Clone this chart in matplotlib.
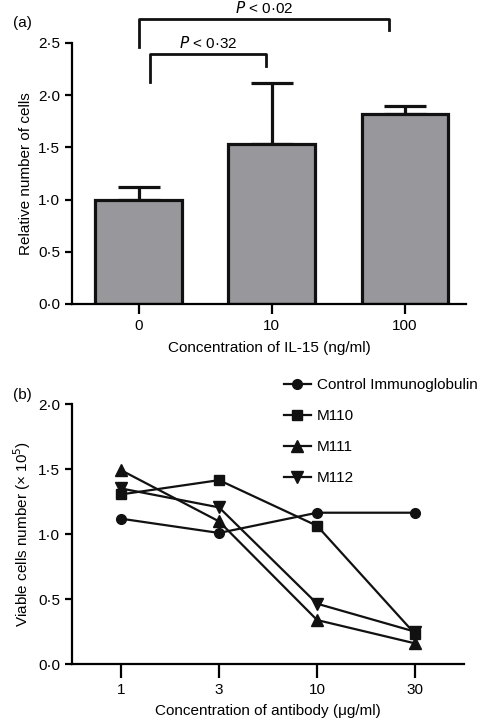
import matplotlib
matplotlib.use("Agg")
import matplotlib.pyplot as plt
from matplotlib.ticker import FixedLocator, FixedFormatter

plt.rcParams['font.family'] = ['Liberation Sans', 'DejaVu Sans']

# -----------------------------
# Data: panel (a)
# -----------------------------
il15_labels = ["0", "10", "100"]
rel_cells = [1.00, 1.535, 1.82]
rel_err = [0.12, 0.585, 0.08]

# -----------------------------
# Data: panel (b)
# -----------------------------
ab_labels = ["1", "3", "10", "30"]
control_ig = [1.12, 1.01, 1.166, 1.166]
m110 = [1.307, 1.417, 1.065, 0.231]
m111 = [1.494, 1.099, 0.339, 0.159]
m112 = [1.353, 1.207, 0.465, 0.249]

FS = 11

def dot_labels(vals):
    return [f"{v:.1f}".replace(".", "\u00b7") for v in vals]

fig = plt.figure(figsize=(4.8, 7.21), dpi=100)

# -----------------------------
# Panel (a): bars
# -----------------------------
ax1 = fig.add_axes([0.15, 0.5784, 0.821, 0.362])
x = range(len(il15_labels))
ax1.bar(x, rel_cells, width=0.65, color="#98979c", edgecolor="#111111",
        linewidth=2.3, zorder=2)
ax1.errorbar(x, rel_cells, yerr=[[0, 0, 0], rel_err], fmt="none",
             ecolor="#111111", elinewidth=2.3, capsize=15, capthick=2.3, zorder=1)
ax1.set_xlim(-0.5, 2.46)
ax1.set_ylim(0, 2.5)
yt = [0, 0.5, 1.0, 1.5, 2.0, 2.5]
ax1.yaxis.set_major_locator(FixedLocator(yt))
ax1.yaxis.set_major_formatter(FixedFormatter(dot_labels(yt)))
ax1.set_xticks(list(x))
ax1.set_xticklabels(il15_labels)
ax1.set_ylabel("Relative number of cells", fontsize=FS)
ax1.set_xlabel("Concentration of IL-15 (ng/ml)", fontsize=FS, labelpad=6)
ax1.tick_params(axis="x", length=7)

# significance brackets
bk = dict(color="#111111", lw=2.0, clip_on=False)
ax1.plot([0.083, 0.083, 0.96, 0.96], [2.13, 2.39, 2.39, 2.28], **bk)
ax1.text(0.52, 2.42, "$P$ < 0\u00b732", ha="center", va="bottom", fontsize=FS)
ax1.plot([0.0, 0.0, 1.88, 1.88], [2.46, 2.73, 2.73, 2.62], **bk)
ax1.text(0.94, 2.76, "$P$ < 0\u00b702", ha="center", va="bottom", fontsize=FS)

fig.text(0.028, 0.962, "(a)", fontsize=FS)

# -----------------------------
# Panel (b): lines
# -----------------------------
ax2 = fig.add_axes([0.15, 0.079, 0.817, 0.360])
xb = range(len(ab_labels))
style = dict(color="#111111", lw=1.6)
ax2.plot(xb, control_ig, marker="o", markersize=7, label="Control Immunoglobulin", **style)
ax2.plot(xb, m110, marker="s", markersize=7, label="M110", **style)
ax2.plot(xb, m111, marker="^", markersize=8, label="M111", **style)
ax2.plot(xb, m112, marker="v", markersize=8, label="M112", **style)
ax2.set_xlim(-0.5, 3.5)
ax2.set_ylim(0, 2.0)
yb = [0, 0.5, 1.0, 1.5, 2.0]
ax2.yaxis.set_major_locator(FixedLocator(yb))
ax2.yaxis.set_major_formatter(FixedFormatter(dot_labels(yb)))
ax2.set_xticks(list(xb))
ax2.set_xticklabels(ab_labels)
ax2.set_ylabel("Viable cells number (\u00d7 10$^5$)", fontsize=FS)
ax2.set_xlabel("Concentration of antibody (\u03bcg/ml)", fontsize=FS, labelpad=5)
ax2.tick_params(axis="x", length=10)
fig.legend(loc="upper left", bbox_to_anchor=(0.578, 0.484), frameon=False,
           fontsize=FS, handlelength=1.8, labelspacing=1.12, handletextpad=0.4,
           borderaxespad=0)

fig.text(0.028, 0.446, "(b)", fontsize=FS)

for ax in (ax1, ax2):
    ax.spines["top"].set_visible(False)
    ax.spines["right"].set_visible(False)
    ax.spines["left"].set_linewidth(1.6)
    ax.spines["bottom"].set_linewidth(1.6)
    ax.tick_params(axis="both", labelsize=FS, width=1.6, direction="out")
    ax.tick_params(axis="y", length=5)

fig.savefig("out.png", dpi=100)
